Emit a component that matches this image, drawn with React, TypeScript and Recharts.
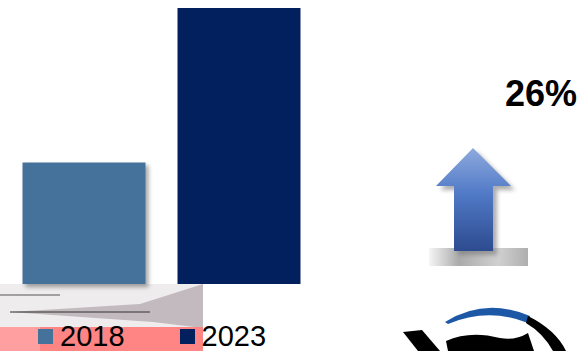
import { BarChart, Bar, XAxis, YAxis, Cell } from 'recharts'

const years = ['2018', '2023']
const values = [44, 100]
const colors = ['#44729b', '#03205e']
const growthLabel = '26%'

const data = years.map((year, i) => ({ year, value: values[i] }))

function YearLegend() {
  return (
    <div style={{ position: 'absolute', left: 0, top: 323, display: 'flex', alignItems: 'center', fontFamily: 'Arial, "Liberation Sans", sans-serif', fontSize: 29, color: '#000', whiteSpace: 'nowrap' }}>
      {years.map((y, i) => (
        <div key={y} style={{ display: 'flex', alignItems: 'center', marginLeft: i === 0 ? 38 : 55 }}>
          <span style={{ width: 15, height: 15, background: colors[i], display: 'inline-block', marginRight: 7 }} />
          <span style={{ lineHeight: '26px' }}>{y}</span>
        </div>
      ))}
    </div>
  )
}

export default function App() {
  return (
    <div style={{ position: 'absolute', left: 0, top: 0, width: 578, height: 351, background: '#fff', overflow: 'hidden' }}>
      {/* background scraps under the bars */}
      <svg width={578} height={351} style={{ position: 'absolute', left: 0, top: 0 }}>
        <polygon points="0,284 203,284 203,328 0,328" fill="#efeced" />
        <polygon points="203,284 140,304 10,312 153,322 203,328" fill="#b6aeb2" opacity={0.8} />
        <line x1={10} y1={312} x2={150} y2={312} stroke="#333" strokeWidth={1} />
        <line x1={0} y1={295} x2={60} y2={295} stroke="#555" strokeWidth={1} />
        <rect x={0} y={327} width={203} height={24} fill="#ff8484" />
        <rect x={0} y={327} width={40} height={24} fill="#ffb0b0" opacity={0.6} />
      </svg>
      <div style={{ position: 'absolute', left: 0, top: 0 }}>
        <BarChart width={578} height={351} data={data} margin={{ top: 8, right: 261.5, bottom: 67, left: 6.5 }} barSize={123}>
          <XAxis dataKey="year" hide />
          <YAxis domain={[0, 100]} hide />
          <Bar dataKey="value" isAnimationActive={false}>
            {data.map((d, i) => (
              <Cell key={d.year} fill={colors[i]} style={i === 0 ? { filter: 'drop-shadow(3px 3px 2px rgba(0,0,0,0.35))' } : undefined} />
            ))}
          </Bar>
        </BarChart>
      </div>
      <YearLegend />
      {/* growth annotation, arrow and logo fragment */}
      <svg width={578} height={351} style={{ position: 'absolute', left: 0, top: 0 }}>
        <defs>
          <linearGradient id="arrowGrad" x1="0" y1="0" x2="0" y2="1">
            <stop offset="0%" stopColor="#8eaade" />
            <stop offset="45%" stopColor="#5079c6" />
            <stop offset="100%" stopColor="#2d4b8f" />
          </linearGradient>
          <linearGradient id="baseGrad" x1="0" y1="0" x2="1" y2="0">
            <stop offset="0%" stopColor="#f4f4f4" />
            <stop offset="30%" stopColor="#9c9c9c" />
            <stop offset="70%" stopColor="#c8c8c8" />
            <stop offset="100%" stopColor="#a0a0a0" />
          </linearGradient>
          <filter id="blur3"><feGaussianBlur stdDeviation="2" /></filter>
        </defs>
        <text x={577} y={106} textAnchor="end" fontFamily="Arial, 'Liberation Sans', sans-serif" fontWeight="bold" fontSize={36} fill="#000">{growthLabel}</text>
        <rect x={429} y={248} width={99} height={18} fill="url(#baseGrad)" opacity={0.85} />
        <polygon points="477,152 515,190 497,190 497,255 458,255 458,190 440,190" fill="#777" opacity={0.6} filter="url(#blur3)" />
        <polygon points="473,148 511,186 493,186 493,251 454,251 454,186 436,186" fill="url(#arrowGrad)" />
        <path d="M445,322 Q485,297 530,316 L528,323 Q488,307 448,324 Z" fill="#1d58a6" />
        <path d="M528,316 Q556,330 566,351 L553,351 Q543,333 526,323 Z" fill="#000" />
        <path d="M403,332 L422,330 L440,351 L418,351 Z" fill="#000" />
        <path d="M446,341 Q470,330 500,338 Q515,341 528,333 L534,351 L448,351 Z" fill="#000" />
      </svg>
    </div>
  )
}
